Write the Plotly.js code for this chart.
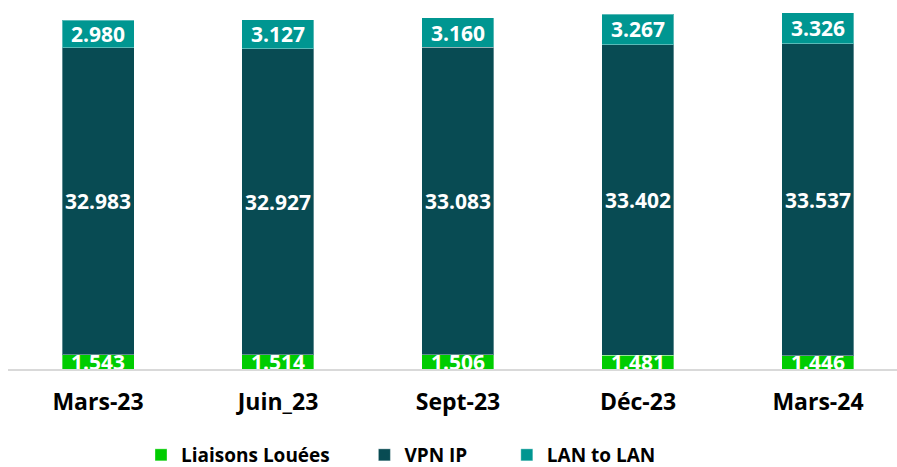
<!DOCTYPE html>
<html>
<head>
<meta charset="utf-8">
<script src="https://cdn.plot.ly/plotly-3.0.1.min.js"></script>
<style>html,body{margin:0;padding:0;background:#fff;}#chart{width:897px;height:467px;}</style>
</head>
<body>
<div id="chart"></div>
<script>
const categories = ["Mars-23", "Juin_23", "Sept-23", "Déc-23", "Mars-24"];
const liaisonsLouees = [1543, 1514, 1506, 1481, 1446];
const vpnIP = [32983, 32927, 33083, 33402, 33537];
const lanToLan = [2980, 3127, 3160, 3267, 3326];
const seriesNames = ["Liaisons Louées", "VPN IP", "LAN to LAN"];

const NB = "\u00a0";
const labelFont = {family: "Open Sans", size: 21, color: "#ffffff", weight: 700};
function series(name, pad, values, color) {
  return {
    type: "bar", name: name + NB.repeat(pad), x: categories, y: values,
    marker: {color: color, line: {color: "rgba(255,255,255,0.35)", width: 1}},
    width: 0.4,
    texttemplate: "%{y:,}", textposition: "inside", insidetextanchor: "middle",
    textangle: 0, constraintext: "none", cliponaxis: true,
    insidetextfont: labelFont, hoverinfo: "skip"
  };
}
const data = [
  series(seriesNames[0], 6, liaisonsLouees, "#00CC00"),
  series(seriesNames[1], 7, vpnIP, "#084B53"),
  series(seriesNames[2], 0, lanToLan, "#009691")
];
const layout = {
  width: 897, height: 467,
  margin: {l: 8, r: 0, t: 0, b: 98},
  barmode: "stack",
  separators: ",.",
  paper_bgcolor: "#ffffff", plot_bgcolor: "#ffffff",
  showlegend: true,
  xaxis: {
    type: "category", range: [-0.5, 4.439],
    showline: true, linecolor: "#D9D9D9", linewidth: 1.5,
    ticks: "", ticklabelstandoff: 12,
    tickfont: {family: "Open Sans", size: 23, color: "#000000", weight: 700},
    showgrid: false, zeroline: false, fixedrange: true
  },
  yaxis: {range: [0, 39677], visible: false, showgrid: false, zeroline: false},
  legend: {
    orientation: "h", xref: "container", yref: "container",
    x: 141 / 897, xanchor: "left", y: 12 / 467, yanchor: "middle",
    itemwidth: 30, traceorder: "normal",
    font: {family: "Open Sans", size: 19, color: "#000000", weight: 700}
  }
};
Plotly.newPlot("chart", data, layout, {displayModeBar: false, staticPlot: true});
</script>
</body>
</html>
